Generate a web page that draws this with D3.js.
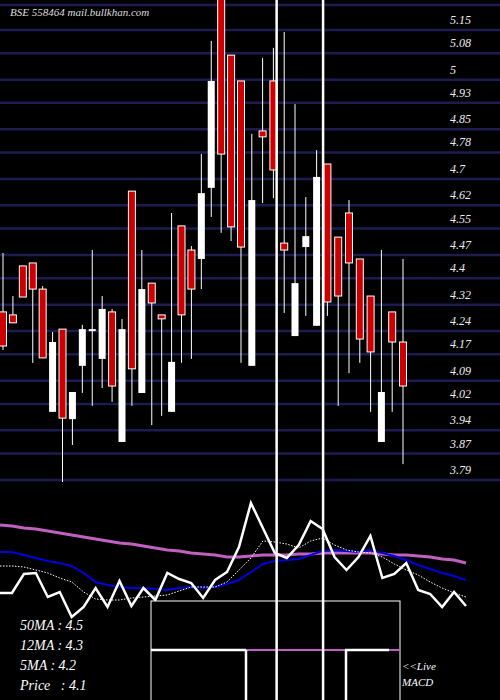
<!DOCTYPE html>
<html><head><meta charset="utf-8">
<script src="https://cdn.jsdelivr.net/npm/d3@7"></script>
<style>body{margin:0;background:#000}svg{display:block}</style>
</head><body>
<script>
const tickLabels = ["5.15","5.08","5","4.93","4.85","4.78","4.7","4.62","4.55","4.47","4.4","4.32","4.24","4.17","4.09","4.02","3.94","3.87","3.79"];
const opens  = [4.298,4.289,4.437,4.446,4.367,3.996,4.246,3.974,4.135,4.246,4.156,4.298,3.905,4.663,4.053,4.385,4.289,3.996,4.558,4.485,4.458,4.673,5.256,5.074,4.996,4.135,4.845,4.996,4.506,4.225,4.494,4.256,4.745,4.524,4.597,4.458,4.346,3.905,4.298,4.207];
const highs  = [4.476,4.346,4.437,4.446,4.376,4.237,4.246,4.056,4.259,4.485,4.346,4.307,4.277,4.663,4.485,4.385,4.289,4.597,4.558,4.497,4.775,5.117,5.27,5.074,4.996,4.836,5.065,5.096,5.144,4.926,4.645,4.787,4.745,4.524,4.636,4.458,4.346,4.485,4.298,4.458];
const lows   = [4.183,4.265,4.343,4.144,4.159,3.996,3.784,3.896,4.053,4.014,4.068,4.026,3.905,4.014,4.053,3.956,3.984,3.996,4.144,4.156,4.367,4.585,4.537,4.512,4.144,4.135,4.627,4.642,4.295,4.225,4.286,4.256,4.286,4.014,4.113,4.144,3.996,3.905,3.996,3.838];
const closes = [4.195,4.265,4.343,4.367,4.159,4.207,3.977,4.056,4.246,4.246,4.307,4.074,4.246,4.126,4.367,4.325,4.277,4.147,4.289,4.367,4.657,4.996,4.775,4.555,4.494,4.636,4.827,4.727,4.485,4.385,4.527,4.706,4.328,4.346,4.446,4.216,4.177,4.056,4.207,4.074];
const priceLine = [7,7,26,27,3,8,-17,-7,12,-7,19,-6,12,0,27,21,17,2,20,28,53,97,72,47,42,55,79,71,43,30,43,64,22,26,37,10,6,-7,8,-6];
const ma50 = [75,74,72,71,69,67,65,63,61,59,57,56,54,52,50,49,47,46,45,43,43,44,45,45,45,46,46,47,47,47,47,47,46,45,45,44,43,41,40,37];
const ma12 = [48,48,45,42,39,37,34,27,18,15,13,12,12,11,10,12,13,12,13,16,20,28,36,39,40,41,45,49,50,49,48,50,47,44,40,35,31,27,24,20];
const ma5  = [34,34,33,30,27,22,18,8,1,0,0,2,3,4,5,9,13,13,13,18,30,42,59,58,56,52,59,62,55,50,48,47,43,36,30,25,18,12,7,3];
const infoLabels = ["50MA : 4.5","12MA : 4.3","5MA : 4.2","Price   : 4.1"];
const markerIdx = [27.3, 31.6];

const W=500,H=700;
const svg=d3.select("body").append("svg").attr("width",W).attr("height",H).style("background","#000");
const y=d3.scaleLinear().domain([5.15,3.79]).range([30,480]);
const x=d3.scaleLinear().domain([0,24,39]).range([3,241,403]);
const xb=d3.scaleLinear().domain([0,39]).range([0,466]);
const yb=d3.scaleLinear().domain([0,100]).range([600,500]);
const step=(5.15-3.79)/18;
const grid=[5.15+step].concat(tickLabels.map(Number));
svg.selectAll(".g").data(grid).enter().append("line")
 .attr("x1",0).attr("x2",W).attr("y1",d=>y(d)).attr("y2",d=>y(d))
 .attr("stroke","#1c1c50").attr("stroke-width",2.5);
svg.selectAll(".tl").data(tickLabels).enter().append("text")
 .attr("x",450).attr("y",d=>y(+d)-6).text(d=>d)
 .attr("fill","#eee").attr("font-family","Liberation Serif").attr("font-style","italic").attr("font-size",12);
svg.append("text").attr("x",10).attr("y",16).text("BSE 558464  mail.bullkhan.com")
 .attr("fill","#ddd").attr("font-family","Liberation Serif").attr("font-style","italic").attr("font-size",11);

const idx=d3.range(opens.length);
svg.selectAll(".w").data(idx).enter().append("line")
 .attr("x1",i=>x(i)).attr("x2",i=>x(i)).attr("y1",i=>y(highs[i])).attr("y2",i=>y(lows[i]))
 .attr("stroke","#fff").attr("stroke-width",1);
svg.selectAll(".b").data(idx).enter().append("rect")
 .attr("x",i=>x(i)-3.5).attr("width",7)
 .attr("y",i=>y(Math.max(opens[i],closes[i])))
 .attr("height",i=>Math.max(2,Math.abs(y(opens[i])-y(closes[i]))))
 .attr("fill",i=>closes[i]<opens[i]?"#cc0000":"#fff")
 .attr("stroke","#fff").attr("stroke-width",i=>closes[i]<opens[i]?1:0);

const line=(arr)=>d3.line().x((d,i)=>xb(i)).y(d=>yb(d))(arr);
svg.append("path").attr("d",line(ma50)).attr("fill","none").attr("stroke","#c060c0").attr("stroke-width",3);
svg.append("path").attr("d",line(ma12)).attr("fill","none").attr("stroke","#0000dd").attr("stroke-width",2);
svg.append("path").attr("d",line(ma5)).attr("fill","none").attr("stroke","#fff").attr("stroke-width",1).attr("stroke-dasharray","1.5,1.5");
svg.append("path").attr("d",line(priceLine)).attr("fill","none").attr("stroke","#fff").attr("stroke-width",2.5);

// MACD box
svg.append("rect").attr("x",151).attr("y",601).attr("width",249).attr("height",110).attr("fill","#000").attr("stroke","#fff").attr("stroke-width",1);
svg.append("path").attr("d","M151,650H246M345,650H389").attr("stroke","#fff").attr("stroke-width",2.5);
svg.append("path").attr("d","M246,650H345M389,650H400").attr("stroke","#c060c0").attr("stroke-width",2);
svg.append("path").attr("d","M246,650V700M346,650V700").attr("stroke","#fff").attr("stroke-width",2.5);

svg.selectAll(".vm").data(markerIdx).enter().append("line")
 .attr("x1",d=>x(d)).attr("x2",d=>x(d)).attr("y1",0).attr("y2",H)
 .attr("stroke","#fff").attr("stroke-width",2.5);

svg.selectAll(".il").data(infoLabels).enter().append("text")
 .attr("x",20).attr("y",(d,i)=>630+i*20).text(d=>d).attr("xml:space","preserve").style("white-space","pre")
 .attr("fill","#fff").attr("font-family","Liberation Serif").attr("font-style","italic").attr("font-size",14);
svg.append("text").attr("x",402).attr("y",670).text("<<Live").attr("fill","#fff").attr("font-family","Liberation Serif").attr("font-style","italic").attr("font-size",11);
svg.append("text").attr("x",402).attr("y",686).text("MACD").attr("fill","#fff").attr("font-family","Liberation Serif").attr("font-style","italic").attr("font-size",11);
</script>
</body></html>
